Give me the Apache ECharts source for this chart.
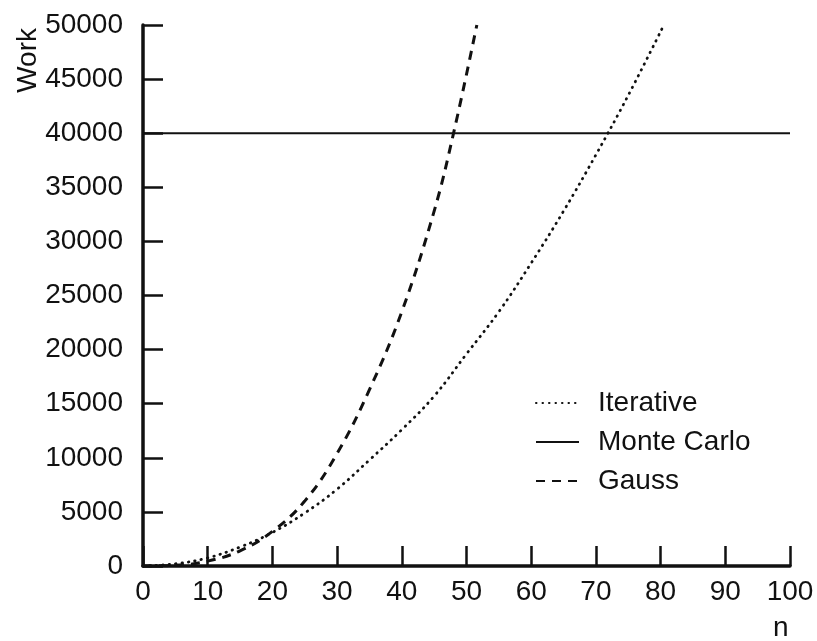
<!DOCTYPE html>
<html>
<head>
    <meta charset="utf-8">
    <title>Work vs n</title>
    <script type="text/javascript" src="https://cdn.jsdelivr.net/npm/echarts@6/dist/echarts.min.js"></script>
    <style>
        html, body { margin: 0; padding: 0; background: #fff; }
    </style>
</head>
<body>
<div id="main" style="width: 817px;height:641px;"></div>
<script type="text/javascript">
    // values
    var iterN = [0, 5, 10, 15, 20, 25, 30, 35, 40, 45, 50, 55, 60, 65, 70, 75, 80.5];
    var iterWork = [0, 200, 750, 1750, 3100, 4900, 7100, 9800, 12600, 15700, 19600, 23500, 28000, 32800, 38000, 43500, 50000];
    var gaussN = [0, 5, 10, 15, 20, 25, 30, 35, 40, 45, 48, 51.6];
    var gaussWork = [0, 60, 450, 1400, 3200, 6000, 10400, 16300, 23500, 32800, 40000, 50000];
    var mcN = [0, 100];
    var mcWork = [40000, 40000];

    function pairs(xs, ys) {
        return xs.map(function (x, i) { return [x, ys[i]]; });
    }

    var font = 'Liberation Sans, Arial, Helvetica, sans-serif';
    var ink = '#111';

    var myChart = echarts.init(document.getElementById('main'));
    var option = {
        backgroundColor: '#fff',
        animation: false,
        grid: { left: 143, right: 27, top: 25, bottom: 75, containLabel: false },
        legend: {
            orient: 'vertical',
            left: 530,
            top: 383,
            itemWidth: 43,
            itemHeight: 14,
            itemGap: 9,
            itemStyle: { opacity: 0 },
            textStyle: { fontFamily: font, fontSize: 28, color: ink, lineHeight: 30, padding: [0, 0, 0, 14] },
            data: ['Iterative', 'Monte Carlo', 'Gauss']
        },
        xAxis: {
            type: 'value',
            min: 0, max: 100, interval: 10,
            splitLine: { show: false },
            axisLine: { onZero: false, lineStyle: { color: ink, width: 3.5 } },
            axisTick: { inside: true, length: 20, lineStyle: { color: ink, width: 2.5 } },
            axisLabel: { margin: 12, color: ink, fontFamily: font, fontSize: 28 }
        },
        yAxis: {
            type: 'value',
            min: 0, max: 50000, interval: 5000,
            splitLine: { show: false },
            axisLine: { show: true, onZero: false, lineStyle: { color: ink, width: 3.5 } },
            axisTick: { show: true, inside: true, length: 20, lineStyle: { color: ink, width: 2.5 } },
            axisLabel: { margin: 20, color: ink, fontFamily: font, fontSize: 28,
                         formatter: function (v) { return String(v); } }
        },
        graphic: [
            { type: 'text', left: 14, top: 28, rotation: Math.PI / 2,
              style: { text: 'Work', fontFamily: font, fontSize: 28, fill: ink } },
            { type: 'text', left: 773, top: 614,
              style: { text: 'n', fontFamily: font, fontSize: 28, fill: ink } }
        ],
        series: [
            {
                name: 'Iterative', type: 'line', symbol: 'none', smooth: 0.4,
                data: pairs(iterN, iterWork),
                lineStyle: { color: ink, width: 2.8, type: [0.5, 6], cap: 'round' },
                itemStyle: { color: ink }
            },
            {
                name: 'Monte Carlo', type: 'line', symbol: 'none',
                data: pairs(mcN, mcWork),
                lineStyle: { color: ink, width: 2 },
                itemStyle: { color: ink }
            },
            {
                name: 'Gauss', type: 'line', symbol: 'none', smooth: 0.4,
                data: pairs(gaussN, gaussWork),
                lineStyle: { color: ink, width: 3, type: [9, 7] },
                itemStyle: { color: ink }
            }
        ]
    };
    myChart.setOption(option);
</script>
</body>
</html>
